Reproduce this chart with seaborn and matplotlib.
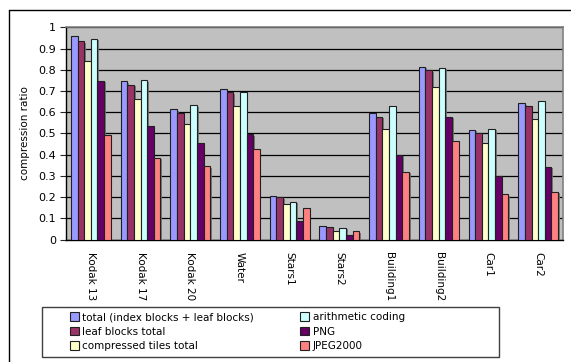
import matplotlib
matplotlib.use("Agg")
import matplotlib.pyplot as plt
import matplotlib.patheffects as pe
from matplotlib.lines import Line2D
from matplotlib.patches import Rectangle
import seaborn as sns
import pandas as pd
import numpy as np

images = ["Kodak 13", "Kodak 17", "Kodak 20", "Water", "Stars1", "Stars2",
          "Building1", "Building2", "Car1", "Car2"]
series_names = ["total (index blocks + leaf blocks)", "leaf blocks total",
                "compressed tiles total", "arithmetic coding", "PNG", "JPEG2000"]

total_index_leaf = [0.958, 0.746, 0.614, 0.710, 0.205, 0.064, 0.595, 0.815, 0.518, 0.644]
leaf_blocks_total = [0.935, 0.729, 0.598, 0.694, 0.200, 0.060, 0.579, 0.798, 0.504, 0.630]
compressed_tiles = [0.843, 0.661, 0.543, 0.630, 0.167, 0.039, 0.523, 0.721, 0.454, 0.568]
arithmetic_coding = [0.947, 0.752, 0.633, 0.694, 0.178, 0.056, 0.630, 0.809, 0.523, 0.653]
png = [0.749, 0.534, 0.454, 0.496, 0.087, 0.023, 0.399, 0.579, 0.298, 0.343]
jpeg2000 = [0.491, 0.386, 0.347, 0.427, 0.149, 0.039, 0.320, 0.465, 0.213, 0.225]

colors = ["#9999FF", "#993366", "#FFFFCC", "#CCFFFF", "#660066", "#FF8080"]

series_values = [total_index_leaf, leaf_blocks_total, compressed_tiles,
                 arithmetic_coding, png, jpeg2000]
df = pd.DataFrame({
    "image": np.tile(images, len(series_names)),
    "series": np.repeat(series_names, len(images)),
    "ratio": np.concatenate(series_values),
})

sns.set_style("white")
plt.rcParams["font.family"] = ["DejaVu Sans"]
plt.rcParams["text.color"] = "black"
plt.rcParams["xtick.labelcolor"] = "black"
plt.rcParams["ytick.labelcolor"] = "black"

W, H = 571, 362
fig = plt.figure(figsize=(W / 100, H / 100), dpi=100)
ax = fig.add_axes([66 / W, 1 - 239.5 / H, (563 - 66) / W, (239.5 - 27.3) / H])
ax.set_facecolor("#C0C0C0")

sns.barplot(data=df, x="image", y="ratio", hue="series", palette=colors,
            hue_order=series_names, order=images, width=0.8,
            edgecolor="#202020", linewidth=0.8, ax=ax, legend=False, zorder=3,
            saturation=1)

for p in ax.patches:
    p.set_path_effects([pe.SimplePatchShadow(offset=(1.2, -1.2), shadow_rgbFace="#707070", alpha=0.9),
                        pe.Normal()])

ax.set_ylim(0, 1)
ax.set_xlim(-0.5, len(images) - 0.5)
ax.set_yticks(np.arange(0, 1.01, 0.1))
ax.set_yticklabels(["0"] + [f"{v:.1f}" for v in np.arange(0.1, 0.95, 0.1)] + ["1"])
ax.yaxis.grid(True, color="black", linewidth=0.9, zorder=1)
ax.set_axisbelow(True)

ax.set_xticks(np.arange(len(images)))
ax.set_xticklabels(images, rotation=-90, fontsize=7.5, va="top", ha="center", color="black")
ax.tick_params(axis="x", length=0, pad=9)
ax.set_xticks(np.arange(-0.5, len(images), 1.0), minor=True)
ax.tick_params(axis="x", which="minor", length=4, width=0.8, color="#404040", direction="out")
ax.tick_params(axis="y", length=4, width=0.8, direction="out", labelsize=8, pad=3, left=True,
               labelcolor="black")

for side in ["top", "right"]:
    ax.spines[side].set_color("#808080")
    ax.spines[side].set_linewidth(1.2)
ax.spines["left"].set_color("black")
ax.spines["bottom"].set_color("black")
ax.spines["left"].set_linewidth(1.0)
ax.spines["bottom"].set_linewidth(1.0)

ax.set_xlabel("")
ax.set_ylabel("compression ratio", fontsize=7.5, labelpad=6, color="black")

# outer chart frame
fig.add_artist(Line2D([9 / W, 1.0], [1 - 10 / H, 1 - 10 / H], color="black", lw=1.0))
fig.add_artist(Line2D([9 / W, 9 / W], [0, 1 - 10 / H], color="black", lw=1.0))

# legend box
fig.add_artist(Rectangle((42 / W, 1 - 357 / H), (499 - 42) / W, 50 / H,
                         transform=fig.transFigure, facecolor="white",
                         edgecolor="#404040", lw=1.0, zorder=4))
handles = [plt.Rectangle((0, 0), 1, 1, facecolor=c, edgecolor="#202020", lw=0.8) for c in colors]
leg = fig.legend(handles, series_names, ncol=2, loc="upper left",
                 bbox_to_anchor=(70 / W, 1 - 312 / H),
                 frameon=False, fontsize=7.5,
                 handlelength=0.9, handleheight=0.9, handletextpad=0.3,
                 labelspacing=0.45, borderaxespad=0.0, columnspacing=4.4,
                 borderpad=0.0)
leg.set_zorder(5)
for t in leg.get_texts():
    t.set_color("black")

fig.savefig("out.png", dpi=100)
